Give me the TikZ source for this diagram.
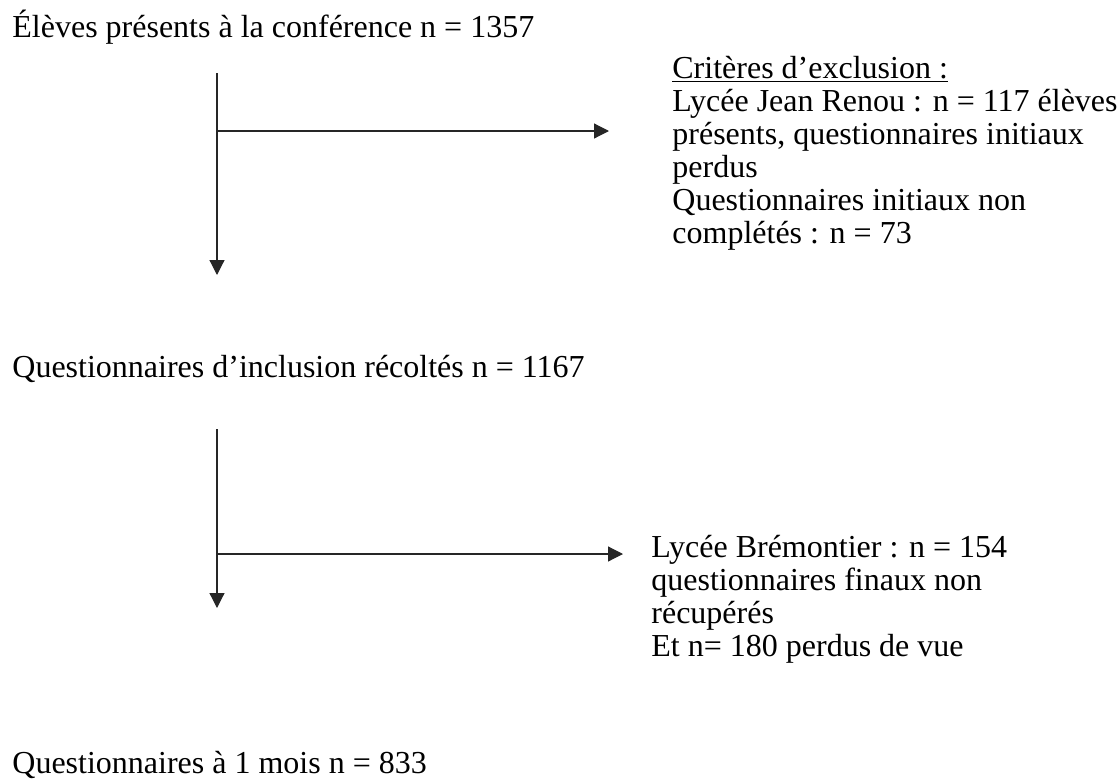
\documentclass[tikz,border=0pt]{standalone}
\usepackage{fontspec}
\setmainfont{Liberation Serif}
\usetikzlibrary{arrows.meta}
\newcommand{\notebox}[1]{\parbox[t]{12cm}{\raggedright #1}}
\begin{document}
\begin{tikzpicture}
	[	x=0.5pt,y=-0.5pt,
	txt/.style={anchor=base west,inner sep=0pt,font=\fontsize{16pt}{16.5pt}\selectfont},
	flow/.style={draw=black!85,line width=0.6pt,-{Triangle[length=7.5pt,width=7.5pt]}}
	]
	\useasboundingbox (0,0) rectangle (1120,782);

	\node[txt] (eleves) at (12,37){Élèves présents à la conférence n = 1357};
	\node[txt] (inclus) at (12,377){Questionnaires d’inclusion récoltés n = 1167};
	\node[txt] (mois) at (12,773){Questionnaires à 1 mois n = 833};

	\node[txt] (excl1) at (672,78){\notebox{\underline{Critères d’exclusion :}\\
		Lycée Jean Renou : n = 117 élèves\\
		présents, questionnaires initiaux\\
		perdus\\
		Questionnaires initiaux non\\
		complétés : n = 73}};
	\node[txt] (excl2) at (651,557){\notebox{Lycée Brémontier : n = 154\\
		questionnaires finaux non\\
		récupérés\\
		Et n= 180 perdus de vue}};

	\coordinate (top1) at (217,73);
	\coordinate (br1) at (217,131);
	\coordinate (end1) at (217,275);
	\coordinate (tip1) at (609,131);
	\coordinate (top2) at (217,429);
	\coordinate (br2) at (217,554);
	\coordinate (end2) at (217,608);
	\coordinate (tip2) at (623,554);

	\draw[flow] (top1) -- (end1);
	\draw[flow] (br1) -- (tip1);
	\draw[flow] (top2) -- (end2);
	\draw[flow] (br2) -- (tip2);
\end{tikzpicture}
\end{document}
